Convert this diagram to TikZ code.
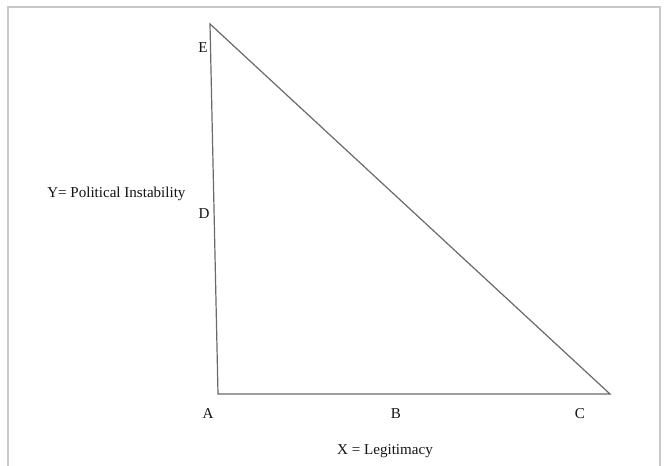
\documentclass[tikz,border=0pt]{standalone}
\usepackage{fontspec}
\setmainfont{Liberation Serif}
\definecolor{framegray}{RGB}{200,200,200}
\definecolor{linegray}{RGB}{105,105,105}
\definecolor{txt}{RGB}{20,20,20}
\begin{document}
\begin{tikzpicture}[x=0.75pt,y=-0.75pt,
  lbl/.style={inner sep=0pt,font=\fontsize{11.3}{13}\selectfont,text=txt},
  side/.style={draw=linegray,line width=0.9pt,line join=miter}]
\useasboundingbox (0,0) rectangle (666,465);
\fill[white] (0,0) rectangle (666,465);
\draw[framegray,line width=0.8pt] (8,470) -- (8,7) -- (660,7) -- (660,470);
\coordinate (Ev) at (210,24);
\coordinate (Av) at (218,394);
\coordinate (Cv) at (610,394);
\draw[side] (Ev) -- (Av) -- (Cv) -- cycle;
\node[lbl] (E) at (203,48) {E};
\node[lbl] (D) at (204,214) {D};
\node[lbl,anchor=west] (Y) at (47,194) {Y= Political Instability};
\node[lbl] (A) at (208,414) {A};
\node[lbl] (B) at (396,414) {B};
\node[lbl] (C) at (580,414) {C};
\node[lbl] (X) at (385,451) {X = Legitimacy};
\end{tikzpicture}
\end{document}
